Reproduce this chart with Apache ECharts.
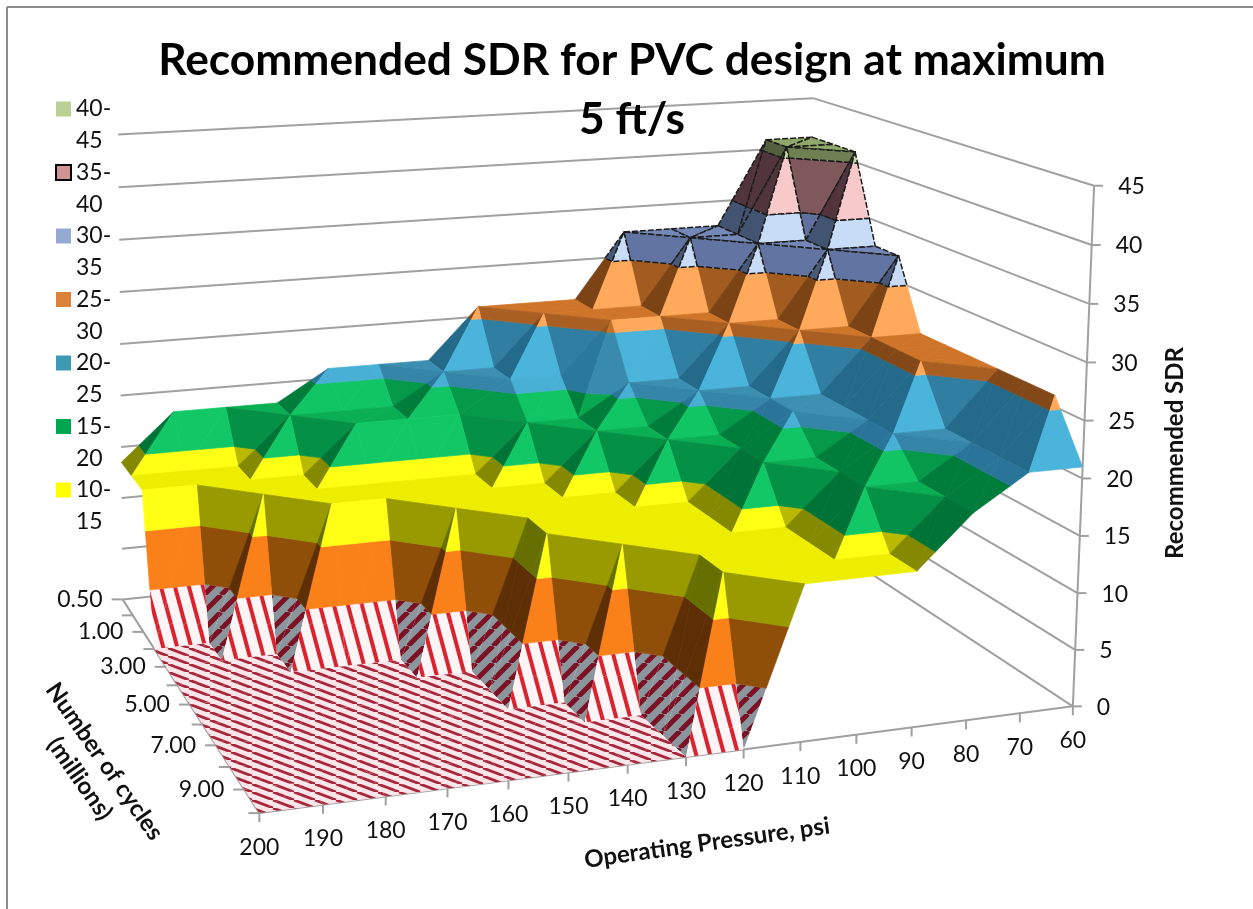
<!DOCTYPE html>
<html>
<head>
<meta charset="utf-8">
<title>Recommended SDR</title>
<script src="https://cdn.jsdelivr.net/npm/echarts@6/dist/echarts.min.js"></script>
<style>
html, body { margin: 0; background: #fff; }
#chart { width: 1253px; height: 909px; }
</style>
</head>
<body>
<div id="chart"></div>
<script>
const titleText = 'Recommended SDR for PVC design at maximum\n5 ft/s';
const pressures = [200, 190, 180, 170, 160, 150, 140, 130, 120, 110, 100, 90, 80, 70, 60];
const cycleLabels = ['0.50', '', '1.00', '', '3.00', '', '5.00', '', '7.00', '', '9.00', ''];
const sdrTicks = [0, 5, 10, 15, 20, 25, 30, 35, 40, 45];
const bandNames = ['40-45', '35-40', '30-35', '25-30', '20-25', '15-20', '10-15'];
const bandSwatches = ['#bbd095', '#d09494', '#95aad0', '#dc813a', '#3e9ab2', '#00a650', '#ffff00'];

// recommended SDR, one list per cycles row (back to front), pressures 200 -> 60
const sdrRow00 = [13.5, 18, 18, 18, 21, 21, 21, 26, 26, 26, 32.5, 32.5, 32.5, 41, 41];
const sdrRow01 = [13.5, 13.5, 13.5, 18, 18, 18, 21, 21, 26, 26, 26, 32.5, 32.5, 41, 41];
const sdrRow02 = [13.5, 13.5, 13.5, 13.5, 18, 18, 18, 21, 21, 26, 26, 26, 32.5, 32.5, 41];
const sdrRow03 = [0, 0, 13.5, 13.5, 13.5, 13.5, 13.5, 18, 18, 21, 21, 26, 26, 32.5, 32.5];
const sdrRow04 = [0, 0, 0, 13.5, 13.5, 13.5, 13.5, 13.5, 18, 18, 21, 21, 26, 26, 32.5];
const sdrRow05 = [0, 0, 0, 0, 0, 13.5, 13.5, 13.5, 13.5, 18, 18, 21, 21, 26, 26];
const sdrRow06 = [0, 0, 0, 0, 0, 0, 13.5, 13.5, 13.5, 13.5, 18, 21, 21, 26, 26];
const sdrRow07 = [0, 0, 0, 0, 0, 0, 13.5, 13.5, 13.5, 13.5, 18, 18, 21, 26, 26];
const sdrRow08 = [0, 0, 0, 0, 0, 0, 0, 13.5, 13.5, 13.5, 13.5, 18, 21, 21, 26];
const sdrRow09 = [0, 0, 0, 0, 0, 0, 0, 0, 13.5, 13.5, 13.5, 18, 18, 21, 26];
const sdrRow10 = [0, 0, 0, 0, 0, 0, 0, 0, 13.5, 13.5, 13.5, 13.5, 18, 21, 26];
const sdrRow11 = [0, 0, 0, 0, 0, 0, 0, 0, 0, 13.5, 13.5, 13.5, 18, 21, 21];
const surface = [sdrRow00, sdrRow01, sdrRow02, sdrRow03, sdrRow04, sdrRow05,
    sdrRow06, sdrRow07, sdrRow08, sdrRow09, sdrRow10, sdrRow11];

const nCols = pressures.length, nRows = surface.length, zMax = 45;
const font = 'Lato, sans-serif';
const gridColor = '#a0a0a0';

// where the box corners of the 3d axes sit on the page: [col, row, sdr, px, py]
const cameraAnchors = [
    [0, 0, 0, 123, 600], [0, 0, 20, 121, 398], [0, 0, 45, 119, 133],
    [0, 6, 0, 189, 704], [0, 11, 0, 258, 812], [7, 11, 0, 687, 757],
    [14, 11, 0, 1073, 705], [14, 11, 20, 1083, 480], [14, 11, 45, 1094, 187],
    [14, 0, 45, 812, 97]
];

function solve(A, b) {
    const n = b.length;
    for (let c = 0; c < n; c++) {
        let best = c;
        for (let r = c + 1; r < n; r++) if (Math.abs(A[r][c]) > Math.abs(A[best][c])) best = r;
        [A[c], A[best]] = [A[best], A[c]];
        [b[c], b[best]] = [b[best], b[c]];
        for (let r = c + 1; r < n; r++) {
            const f = A[r][c] / A[c][c];
            for (let k = c; k < n; k++) A[r][k] -= f * A[c][k];
            b[r] -= f * b[c];
        }
    }
    const x = new Array(n).fill(0);
    for (let r = n - 1; r >= 0; r--) {
        let s = b[r];
        for (let k = r + 1; k < n; k++) s -= A[r][k] * x[k];
        x[r] = s / A[r][r];
    }
    return x;
}

// least squares fit of a perspective camera to the anchors
function fitCamera(anchors) {
    const rows = [], rhs = [];
    anchors.forEach(([c, r, z, px, py]) => {
        const X = c / (nCols - 1), Y = r / (nRows - 1), Z = z / zMax, u = px / 1000, v = py / 1000;
        rows.push([X, Y, Z, 1, 0, 0, 0, 0, -u * X, -u * Y, -u * Z]); rhs.push(u);
        rows.push([0, 0, 0, 0, X, Y, Z, 1, -v * X, -v * Y, -v * Z]); rhs.push(v);
    });
    const N = [], t = [];
    for (let i = 0; i < 11; i++) {
        N.push([]);
        t.push(rows.reduce((s, row, k) => s + row[i] * rhs[k], 0));
        for (let j = 0; j < 11; j++) N[i].push(rows.reduce((s, row) => s + row[i] * row[j], 0));
    }
    return solve(N, t);
}
const cam = fitCamera(cameraAnchors);

function depth(c, r, z) {
    return cam[8] * c / (nCols - 1) + cam[9] * r / (nRows - 1) + cam[10] * z / zMax + 1;
}
function project(c, r, z) {
    const X = c / (nCols - 1), Y = r / (nRows - 1), Z = z / zMax;
    const w = depth(c, r, z);
    return [1000 * (cam[0] * X + cam[1] * Y + cam[2] * Z + cam[3]) / w,
            1000 * (cam[4] * X + cam[5] * Y + cam[6] * Z + cam[7]) / w];
}

// hatch tiles for the 0-5 band
function stripeTile(w, h, bg, color, width, off, run) {
    const cv = document.createElement('canvas');
    cv.width = w; cv.height = h;
    const g = cv.getContext('2d');
    g.fillStyle = bg; g.fillRect(0, 0, w, h);
    g.strokeStyle = color; g.lineWidth = width;
    for (let k = -2; k <= 2; k++) {
        g.beginPath();
        g.moveTo(k * w + off, 0); g.lineTo(k * w + off + run, h);
        g.stroke();
    }
    return { image: cv, repeat: 'repeat' };
}
const hatchBright = stripeTile(14, 52, '#fdf4f6', '#d9232e', 4, 3, 14);
const hatchDark = stripeTile(17, 17, '#8b969c', '#7c1024', 5, 17, -17);
const hatchFloor = stripeTile(21, 8, '#fae6e8', '#a8263b', 2.8, 0, 21);

// colours of each 5-wide band for a face turned away from, flat to and towards the light
const shadeStops = [0, 0.46, 0.79, 1];
const bandPalettes = [
    null,
    ['#5e2f05', '#8f4f08', '#e07a18', '#fa801a'],
    ['#667000', '#999900', '#eeee00', '#ffff15'],
    ['#005f30', '#007f3c', '#0ab054', '#12c866'],
    ['#1d5a78', '#2a789c', '#3c8fb0', '#4ab4da'],
    ['#6e3a12', '#96551c', '#d0752a', '#ffa95c'],
    ['#3d4f6a', '#5d6e9a', '#7488b8', '#c8dcf8'],
    ['#4a2e36', '#7a5458', '#a07878', '#f8c9c9'],
    ['#4f5a3a', '#6a7a50', '#8fa868', '#c8dca0']
];

function hexRgb(h) {
    return [1, 3, 5].map(k => parseInt(h.substr(k, 2), 16));
}
function shadeColor(palette, s) {
    let k = 0;
    while (k < shadeStops.length - 2 && s > shadeStops[k + 1]) k++;
    const t = Math.min(1, Math.max(0, (s - shadeStops[k]) / (shadeStops[k + 1] - shadeStops[k])));
    const a = hexRgb(palette[k]), b = hexRgb(palette[k + 1]);
    return 'rgb(' + a.map((v, n) => Math.round(v + (b[n] - v) * t)).join(',') + ')';
}

// shade of a triangle, 1 = facing the front, 0 = facing left
function faceShade(tri) {
    const W = v => [v[0] * 7, v[1] * 6, v[2] * 1.3];
    const [a, b, c] = tri.map(W);
    const p = [b[0] - a[0], b[1] - a[1], b[2] - a[2]], q = [c[0] - a[0], c[1] - a[1], c[2] - a[2]];
    let n = [p[1] * q[2] - p[2] * q[1], p[2] * q[0] - p[0] * q[2], p[0] * q[1] - p[1] * q[0]];
    if (n[2] < 0) n = n.map(v => -v);
    const len = Math.hypot(n[0], n[1], n[2]);
    const dot = (0.8 * n[0] + 0.5 * n[1] + 0.33 * n[2]) / len;
    return Math.max(0, Math.min(1, (dot + 0.59) / 1.17));
}

// keep the part of a polygon between two sdr levels
function clipZ(poly, level, keepAbove) {
    const out = [];
    poly.forEach((p, k) => {
        const q = poly[(k + 1) % poly.length];
        const pin = keepAbove ? p[2] >= level : p[2] <= level;
        const qin = keepAbove ? q[2] >= level : q[2] <= level;
        if (pin) out.push(p);
        if (pin !== qin) {
            const t = (level - p[2]) / (q[2] - p[2]);
            out.push([p[0] + (q[0] - p[0]) * t, p[1] + (q[1] - p[1]) * t, level]);
        }
    });
    return out;
}
function polyArea(pts) {
    let s = 0;
    pts.forEach((p, k) => {
        const q = pts[(k + 1) % pts.length];
        s += p[0] * q[1] - q[0] * p[1];
    });
    return Math.abs(s) / 2;
}

// split the surface into flat pieces, far cells first
const fragments = [];
function addTriangle(tri) {
    const zs = tri.map(v => v[2]);
    const s = faceShade(tri);
    const isFlat = Math.max(...zs) === Math.min(...zs);
    for (let b = 0; b < 9; b++) {
        const lo = b * 5, hi = lo + 5;
        if (isFlat && !(zs[0] >= lo && zs[0] < hi)) continue;
        const poly = clipZ(clipZ(tri, lo, true), hi, false);
        if (poly.length < 3) continue;
        const pts = poly.map(v => project(v[0], v[1], v[2]));
        if (polyArea(pts) < 0.3) continue;
        let fill, stroke;
        if (b === 0) {
            fill = isFlat ? hatchFloor : (s > 0.6 ? hatchBright : hatchDark);
            stroke = null;
        } else {
            fill = shadeColor(bandPalettes[b], s);
            stroke = fill;
        }
        fragments.push({ pts, fill, stroke, dashed: b >= 6 });
    }
}
for (let r = 0; r < nRows - 1; r++) {
    for (let c = nCols - 2; c >= 0; c--) {
        const a = [c, r, surface[r][c]], b = [c + 1, r, surface[r][c + 1]];
        const d = [c, r + 1, surface[r + 1][c]], e = [c + 1, r + 1, surface[r + 1][c + 1]];
        // the fold runs along the diagonal with the higher ends
        let tris;
        if (a[2] + e[2] > b[2] + d[2]) tris = [[a, b, e], [a, e, d]];
        else tris = [[a, b, d], [b, e, d]];
        const far = t => Math.max(...t.map(v => depth(v[0], v[1], v[2])));
        tris.sort((p, q) => far(q) - far(p));
        tris.forEach(addTriangle);
    }
}

function line(a, b, color, width) {
    return { type: 'line', shape: { x1: a[0], y1: a[1], x2: b[0], y2: b[1] },
        style: { stroke: color || gridColor, lineWidth: width || 2 }, silent: true };
}
function label(text, x, y, fontSpec, align, rotation, lineHeight) {
    return { type: 'text', x: x, y: y, rotation: rotation || 0, silent: true,
        style: { text: text, fill: '#111', align: align || 'center', verticalAlign: 'middle',
            font: fontSpec + ' ' + font, lineHeight: lineHeight } };
}

function drawWalls() {
    const kids = [];
    sdrTicks.forEach(z => {
        kids.push(line(project(0, 0, z), project(nCols - 1, 0, z)));
        kids.push(line(project(nCols - 1, 0, z), project(nCols - 1, nRows - 1, z)));
    });
    kids.push(line(project(0, 0, 0), project(0, nRows - 1, 0)));
    kids.push(line(project(0, nRows - 1, 0), project(nCols - 1, nRows - 1, 0)));
    kids.push(line(project(nCols - 1, nRows - 1, 0), project(nCols - 1, nRows - 1, zMax)));
    return { type: 'group', children: kids };
}

function drawAxes() {
    const kids = [];
    pressures.forEach((p, c) => {
        const a = project(c, nRows - 1, 0);
        kids.push(line(a, [a[0], a[1] + 9]));
        kids.push(label(String(p), a[0], a[1] + 34, '23px'));
    });
    cycleLabels.forEach((t, r) => {
        const a = project(0, r, 0);
        kids.push(line(a, [a[0] - 11, a[1]]));
        if (t) kids.push(label(t, a[0] - 20, a[1], '23px', 'right'));
    });
    sdrTicks.forEach(z => {
        const a = project(nCols - 1, nRows - 1, z);
        kids.push(line(a, [a[0] + 9, a[1]]));
        kids.push(label(String(z), a[0] + 24, a[1] + 1, '23px', 'left'));
    });
    kids.push(label('Recommended SDR', 1175, 453, 'bold 24px', 'center', Math.PI / 2));
    kids.push(label('Operating Pressure, psi', 707, 843, 'bold 24px', 'center', 8 * Math.PI / 180));
    kids.push(label('Number of cycles\n(millions)', 92, 770, 'bold 24px', 'center', -55 * Math.PI / 180, 30));
    // chart area border
    kids.push(line([7, 7], [7, 909], '#8c8c8c', 2));
    kids.push(line([7, 7], [1253, 7], '#8c8c8c', 2));
    return { type: 'group', children: kids };
}

const chart = echarts.init(document.getElementById('chart'), null, { renderer: 'canvas' });

const legendSeries = bandNames.map((name, k) => ({
    name: name,
    type: 'custom',
    coordinateSystem: 'none',
    itemStyle: { color: bandSwatches[k] },
    renderItem: () => null,
    data: []
}));

chart.setOption({
    animation: false,
    backgroundColor: '#fff',
    title: {
        text: titleText,
        left: 627,
        top: 26,
        textAlign: 'center',
        textStyle: { fontFamily: font, fontSize: 44.3, fontWeight: 'bold', color: '#000', lineHeight: 59 }
    },
    legend: {
        orient: 'vertical',
        left: 55,
        top: 61,
        padding: 0,
        selectedMode: false,
        itemWidth: 15,
        itemHeight: 15,
        itemGap: -32.5,
        icon: 'rect',
        data: bandNames.map((n, k) => k === 1
            ? { name: n, itemStyle: { borderColor: '#000', borderWidth: 2 } }
            : { name: n }),
        // blank first line keeps the swatch level with the first line of text
        formatter: n => '\n' + n.replace('-', '-\n'),
        textStyle: { fontFamily: font, fontSize: 23, color: '#111', lineHeight: 32 }
    },
    series: legendSeries.concat([
        {
            type: 'custom', coordinateSystem: 'none', silent: true, progressive: 0,
            renderItem: drawWalls, data: [[0]]
        },
        {
            type: 'custom', coordinateSystem: 'none', silent: true, progressive: 0,
            data: fragments.map((f, k) => [k]),
            renderItem: params => {
                const f = fragments[params.dataIndex];
                const style = { fill: f.fill };
                if (f.dashed) {
                    style.stroke = '#1c1c1c'; style.lineWidth = 1.5; style.lineDash = [6, 2]; style.lineJoin = 'round';
                } else if (f.stroke) {
                    style.stroke = f.stroke; style.lineWidth = 0.7;
                }
                return { type: 'polygon', shape: { points: f.pts }, style: style, silent: true };
            }
        },
        {
            type: 'custom', coordinateSystem: 'none', silent: true, progressive: 0,
            renderItem: drawAxes, data: [[0]]
        }
    ])
});
</script>
</body>
</html>
